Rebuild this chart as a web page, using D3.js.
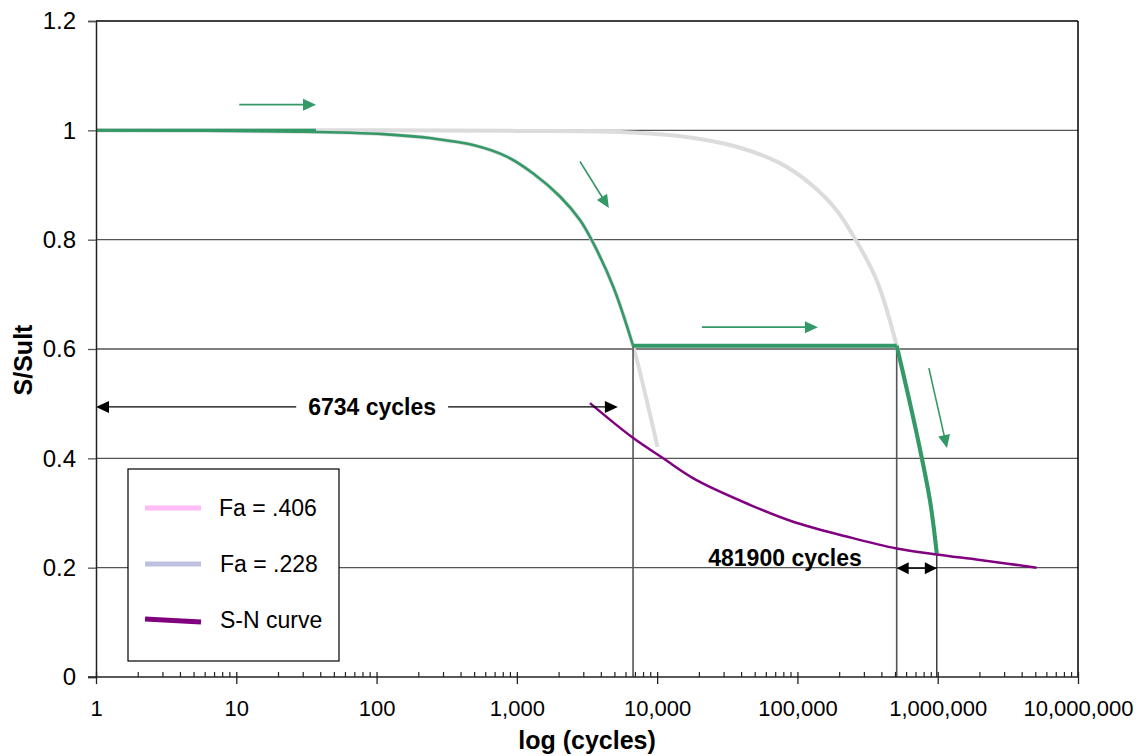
<!DOCTYPE html>
<html>
<head>
<meta charset="utf-8">
<script src="https://cdn.jsdelivr.net/npm/d3@7/dist/d3.min.js"></script>
<style>
  body { margin: 0; background: #fff; }
  svg text { font-family: "Liberation Sans", Arial, sans-serif; }
</style>
</head>
<body>
<script>
// S-N curve (purple)
var snCycles = [3320, 6760, 11050, 19100, 45800, 93300, 224000, 509000, 982000, 2000000, 5070000];
var snValues = [0.501, 0.437, 0.400, 0.360, 0.315, 0.284, 0.257, 0.235, 0.224, 0.214, 0.200];

// grey curve, high-cycle damage path
var highCycles = [1, 100, 1000, 5430, 16200, 36900, 75000, 122700, 190000, 253000, 367000, 510000, 707000, 879000, 985000];
var highValues = [1.0, 1.0, 0.999, 0.997, 0.988, 0.970, 0.940, 0.903, 0.854, 0.805, 0.726, 0.606, 0.446, 0.324, 0.226];

// grey curve, low-cycle damage path (green part runs to 6734)
var lowCycles = [1, 28.4, 112, 254, 489, 846, 1309, 2029, 2818, 3420, 4865, 6734, 8410, 10070];
var lowValues = [1.0, 0.9975, 0.993, 0.985, 0.973, 0.952, 0.921, 0.879, 0.836, 0.799, 0.714, 0.606, 0.507, 0.421];

// transfer points
var n1 = 6734, nSwitch = 510000, nFail = 985000, sSwitch = 0.606, sFail = 0.226;
var lifeLabels = ["6734 cycles", "481900 cycles"];

var yTicks = [0, 0.2, 0.4, 0.6, 0.8, 1, 1.2];
var xMajors = [1, 10, 100, 1000, 10000, 100000, 1000000, 10000000];

// green direction arrows [x1, y1, x2, y2] in data units
var greenArrows = [
  [10.5, 1.047, 37, 1.047],
  [2818, 0.943, 4530, 0.858],
  [20860, 0.640, 140000, 0.640],
  [865000, 0.565, 1164000, 0.419]
];

var legendItems = [
  { name: "Fa = .406", color: "#ffbcf6" },
  { name: "Fa = .228", color: "#bfbfdf" },
  { name: "S-N curve", color: "#800080" }
];

var W = 1141, H = 756;
var pLeft = 96, pRight = 1078, pTop = 21, pBottom = 677;

var svg = d3.select("body").append("svg").attr("width", W).attr("height", H);

var x = d3.scaleLog().domain([1, 1e7]).range([pLeft, pRight]);
var y = d3.scaleLinear().domain([0, 1.2]).range([pBottom, pTop]);

// gridlines
svg.append("g").selectAll("line").data(yTicks.filter(function (d) { return d > 0; }))
  .enter().append("line")
  .attr("x1", pLeft).attr("x2", pRight)
  .attr("y1", function (d) { return y(d); }).attr("y2", function (d) { return y(d); })
  .attr("stroke", function (d) { return d == 1.2 ? "#000" : "#555"; })
  .attr("stroke-width", function (d) { return d == 1.2 ? 1.5 : 1.3; });

// right border
svg.append("line").attr("x1", pRight).attr("x2", pRight).attr("y1", pTop).attr("y2", pBottom)
  .attr("stroke", "#000").attr("stroke-width", 1.5);

var line = d3.line().x(function (d) { return x(d[0]); }).y(function (d) { return y(d[1]); })
  .curve(d3.curveCatmullRom.alpha(0.5));

function zip(a, b) { return a.map(function (v, i) { return [v, b[i]]; }); }

// grey curves
svg.append("path").datum(zip(highCycles, highValues)).attr("d", line)
  .attr("fill", "none").attr("stroke", "#dcdcdc").attr("stroke-width", 4);
svg.append("path").datum(zip(lowCycles, lowValues)).attr("d", line)
  .attr("fill", "none").attr("stroke", "#dcdcdc").attr("stroke-width", 4);

// vertical markers
svg.append("line").attr("x1", x(n1)).attr("x2", x(n1)).attr("y1", y(sSwitch)).attr("y2", y(0))
  .attr("stroke", "#555").attr("stroke-width", 1.6);
svg.append("line").attr("x1", x(nSwitch)).attr("x2", x(nSwitch)).attr("y1", y(sSwitch)).attr("y2", y(0))
  .attr("stroke", "#555").attr("stroke-width", 1.6);
svg.append("line").attr("x1", x(nFail)).attr("x2", x(nFail)).attr("y1", y(sFail)).attr("y2", y(0))
  .attr("stroke", "#111").attr("stroke-width", 1.2);

// green damage path
var green = "#339966";
svg.append("path").datum([[1, 1.0], [37, 1.0]]).attr("d", line)
  .attr("fill", "none").attr("stroke", green).attr("stroke-width", 3);
var lowGreen = zip(lowCycles, lowValues).filter(function (d) { return d[0] <= n1; });
svg.append("path").datum(lowGreen).attr("d", line)
  .attr("fill", "none").attr("stroke", green).attr("stroke-width", 2.6);
svg.append("path").datum([[n1, sSwitch], [nSwitch, sSwitch]]).attr("d", line)
  .attr("fill", "none").attr("stroke", green).attr("stroke-width", 4);
var highGreen = zip(highCycles, highValues).filter(function (d) { return d[0] >= nSwitch; });
svg.append("path").datum(highGreen).attr("d", line)
  .attr("fill", "none").attr("stroke", green).attr("stroke-width", 4);

// S-N curve
svg.append("path").datum(zip(snCycles, snValues)).attr("d", line)
  .attr("fill", "none").attr("stroke", "#800080").attr("stroke-width", 2.5);

// arrow heads as triangles
function arrowHead(g, x1, y1, x2, y2, len, wid, color) {
  var a = Math.atan2(y2 - y1, x2 - x1);
  var bx = x2 - len * Math.cos(a), by = y2 - len * Math.sin(a);
  var px = -Math.sin(a) * wid / 2, py = Math.cos(a) * wid / 2;
  g.append("path")
    .attr("d", "M" + x2 + "," + y2 + "L" + (bx + px) + "," + (by + py) + "L" + (bx - px) + "," + (by - py) + "Z")
    .attr("fill", color);
}

greenArrows.forEach(function (d) {
  var x1 = x(d[0]), y1 = y(d[1]), x2 = x(d[2]), y2 = y(d[3]);
  var a = Math.atan2(y2 - y1, x2 - x1);
  svg.append("line").attr("x1", x1).attr("y1", y1)
    .attr("x2", x2 - 10 * Math.cos(a)).attr("y2", y2 - 10 * Math.sin(a))
    .attr("stroke", green).attr("stroke-width", 1.6);
  arrowHead(svg, x1, y1, x2, y2, 13, 12, green);
});

// "6734 cycles" double arrow
var ya = y(0.494);
var xa1 = x(1), xa2 = x(5250);
svg.append("line").attr("x1", xa1 + 10).attr("x2", xa2 - 10).attr("y1", ya).attr("y2", ya)
  .attr("stroke", "#000").attr("stroke-width", 1.3);
arrowHead(svg, xa2, ya, xa1, ya, 13, 12, "#000");
arrowHead(svg, xa1, ya, xa2, ya, 13, 12, "#000");
var t1 = svg.append("text").attr("x", x(93)).attr("y", ya + 8)
  .attr("text-anchor", "middle").attr("font-size", 23).attr("font-weight", "bold")
  .text(lifeLabels[0]);
var bb = t1.node().getBBox();
svg.insert("rect", "text").attr("x", bb.x - 12).attr("y", bb.y).attr("width", bb.width + 24)
  .attr("height", bb.height).attr("fill", "#fff");

// "481900 cycles" double arrow
var yb = y(0.199);
svg.append("line").attr("x1", x(nSwitch) + 8).attr("x2", x(nFail) - 8).attr("y1", yb).attr("y2", yb)
  .attr("stroke", "#000").attr("stroke-width", 1.3);
arrowHead(svg, x(nFail), yb, x(nSwitch), yb, 12, 12, "#000");
arrowHead(svg, x(nSwitch), yb, x(nFail), yb, 12, 12, "#000");
svg.append("text").attr("x", 785).attr("y", yb - 2)
  .attr("text-anchor", "middle").attr("font-size", 23).attr("font-weight", "bold")
  .text(lifeLabels[1]);

// y axis
var yAxis = svg.append("g").attr("transform", "translate(" + pLeft + ",0)")
  .call(d3.axisLeft(y).tickValues(yTicks).tickSize(8).tickPadding(12)
    .tickFormat(function (d) { return d3.format("")(+d.toFixed(1)); }));
yAxis.select(".domain").attr("stroke", "#222").attr("stroke-width", 1.5);
yAxis.selectAll(".tick line").attr("stroke", "#555").attr("stroke-width", 1.3);
yAxis.selectAll("text").attr("font-size", 24).attr("fill", "#000")
  .attr("font-family", "'Liberation Sans', Arial, sans-serif");

// x axis
var xAxis = svg.append("g").attr("transform", "translate(0," + pBottom + ")")
  .call(d3.axisBottom(x).tickValues(xMajors).tickSize(7).tickSizeOuter(0).tickPadding(16)
    .tickFormat(d3.format(",")));
xAxis.select(".domain").remove();
xAxis.selectAll(".tick line").attr("y1", -5).attr("stroke", "#222").attr("stroke-width", 1.3);
xAxis.selectAll("text").attr("font-size", 22).attr("fill", "#000")
  .attr("font-family", "'Liberation Sans', Arial, sans-serif");
svg.append("line").attr("x1", pLeft - 8).attr("x2", pRight).attr("y1", pBottom).attr("y2", pBottom)
  .attr("stroke", "#222").attr("stroke-width", 1.5);

var minors = [];
xMajors.slice(0, -1).forEach(function (m) {
  for (var k = 2; k < 10; k++) minors.push(m * k);
});
svg.append("g").selectAll("line").data(minors).enter().append("line")
  .attr("x1", function (d) { return x(d); }).attr("x2", function (d) { return x(d); })
  .attr("y1", pBottom - 5).attr("y2", pBottom)
  .attr("stroke", "#222").attr("stroke-width", 1.2);

// axis titles
svg.append("text").attr("x", 587).attr("y", 749)
  .attr("text-anchor", "middle").attr("font-size", 25).attr("font-weight", "bold")
  .text("log (cycles)");
svg.append("text").attr("transform", "translate(32,360) rotate(-90)")
  .attr("text-anchor", "middle").attr("font-size", 25).attr("font-weight", "bold")
  .text("S/Sult");

// legend
var lg = svg.append("g").attr("transform", "translate(128,469)");
lg.append("rect").attr("width", 211).attr("height", 192)
  .attr("fill", "#fff").attr("stroke", "#000").attr("stroke-width", 1.2);
var li = lg.selectAll(".item").data(legendItems).enter().append("g")
  .attr("transform", function (d, i) { return "translate(0," + (39 + i * 56) + ")"; });
li.append("line").attr("x1", 17).attr("x2", 73)
  .attr("y1", function (d, i) { return i == 2 ? -1 : 0; }).attr("y2", function (d, i) { return i == 2 ? 2 : 0; })
  .attr("stroke", function (d) { return d.color; }).attr("stroke-width", 5);
li.append("text").attr("x", function (d, i) { return i == 0 ? 91 : 92; }).attr("y", 2)
  .attr("font-size", 23).attr("dominant-baseline", "middle")
  .text(function (d) { return d.name; });
</script>
</body>
</html>
